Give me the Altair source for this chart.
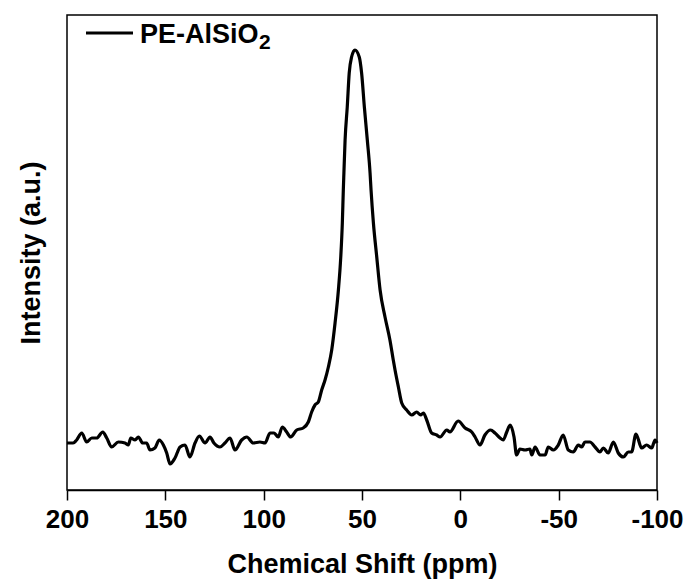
import altair as alt
import pandas as pd

ppm = [200, 196.9, 195.1, 192.5, 190.0, 187.4, 184.9, 181.8, 179.8, 177.3,
       173.9, 170.5, 168.8, 167.6, 165.4, 163.7, 161.5, 159.5, 157.8, 155.3,
       153.1, 151.0, 149.3, 147.6, 145.1, 142.5, 140.0, 137.5, 134.9, 132.7,
       129.8, 127.3, 125.3, 122.2, 119.7, 117.1, 114.6, 111.2, 108.6, 105.3,
       101.9, 99.3, 96.8, 94.7, 92.6, 90.5, 88.3, 86.3, 83.2, 79.9,
       77.3, 75.6, 73.9, 72.2, 70.5, 68.8, 67.1, 65.4, 63.7, 62.0,
       60.8, 60.0, 59.5, 59.2, 58.6, 57.5, 56.5, 55.3, 53.6, 51.4,
       50.2, 48.8, 47.3, 45.9, 45.4, 44.2, 42.5, 40.8, 38.3, 35.8,
       34.1, 33.2, 31.5, 29.8, 27.3, 24.7, 22.2, 20.2, 18.8, 17.1,
       14.6, 12.0, 10.3, 6.9, 5.3, 1.1, -2.4, -5.8, -7.5, -10.0,
       -12.5, -15.4, -17.6, -20.2, -21.8, -23.6, -25.3, -27.3, -28.6, -30.3,
       -32.9, -35.4, -36.3, -38.0, -40.5, -43.1, -44.7, -47.3, -49.8, -52.3,
       -54.9, -57.4, -60.0, -61.7, -63.4, -65.9, -68.5, -71.0, -72.7, -75.2,
       -77.8, -80.3, -82.9, -85.4, -87.1, -89.3, -92.2, -94.7, -97.3, -99.0,
       -100]

intensity = [47, 47, 50, 57, 48, 52, 52, 58, 52, 43,
             48, 47, 45, 52, 50, 53, 47, 47, 40, 42,
             50, 45, 37, 26, 32, 43, 45, 33, 47, 54,
             47, 53, 47, 43, 47, 52, 40, 50, 53, 47,
             48, 47, 57, 57, 53, 63, 58, 53, 60, 62,
             68, 78, 85, 88, 100, 110, 123, 140, 167, 200,
             233, 267, 300, 317, 350, 383, 417, 433, 440, 433,
             417, 383, 350, 317, 300, 267, 233, 200, 173, 150,
             130, 120, 103, 87, 80, 75, 78, 75, 77, 70,
             57, 55, 53, 60, 58, 69, 62, 58, 53, 45,
             55, 60, 57, 52, 50, 58, 65, 53, 35, 41,
             40, 41, 35, 43, 35, 35, 43, 40, 45, 55,
             40, 38, 45, 43, 48, 48, 43, 38, 42, 37,
             48, 37, 33, 38, 38, 56, 42, 45, 42, 50,
             47]

tick_values = [200, 150, 100, 50, 0, -50, -100]
series_name = "PE-AlSiO"
series_sub = "2"

FONT = "Liberation Sans"

df = pd.DataFrame({"ppm": ppm, "intensity": intensity})
leg = pd.DataFrame({"name": [series_name], "sub": [series_sub]})

line = alt.Chart(df).mark_line(
    color="black", strokeWidth=3.2, interpolate="monotone"
).encode(
    x=alt.X("ppm:Q",
            scale=alt.Scale(domain=[-100, 200], reverse=True, nice=False, zero=False),
            axis=alt.Axis(values=tick_values, title="Chemical Shift (ppm)",
                          grid=False, labelExpr="'' + datum.value",
                          labelFlush=False, labelOverlap=False, labelBound=False)),
    y=alt.Y("intensity:Q",
            scale=alt.Scale(domain=[0, 475], nice=False),
            axis=alt.Axis(title="Intensity (a.u.)", labels=False, ticks=False,
                          domain=False, grid=False, titlePadding=22)),
)

leg_line = alt.Chart(leg).mark_rule(color="black", strokeWidth=3).encode(
    x=alt.value(19), x2=alt.value(66), y=alt.value(18)
)
leg_text = alt.Chart(leg).mark_text(
    font=FONT, fontWeight="bold", fontSize=27, align="left", baseline="alphabetic",
    color="black"
).encode(text="name:N", x=alt.value(73), y=alt.value(28))
leg_sub = alt.Chart(leg).mark_text(
    font=FONT, fontWeight="bold", fontSize=21, align="left", baseline="alphabetic",
    color="black"
).encode(text="sub:N", x=alt.value(192), y=alt.value(34))

chart = alt.layer(line, leg_line, leg_text, leg_sub).properties(
    width=590, height=475,
    background="white",
    autosize=alt.AutoSizeParams(type="none"),
    padding={"left": 67, "top": 15, "right": 29, "bottom": 95},
).configure_view(
    stroke="black", strokeWidth=1.5
).configure_axis(
    labelFont=FONT, labelFontWeight="bold", labelFontSize=26, labelColor="black",
    titleFont=FONT, titleFontWeight="bold", titleFontSize=27, titleColor="black",
    domainColor="black", domainWidth=1.5, tickColor="black", tickWidth=1.5,
    tickSize=10, labelPadding=6, titlePadding=19
)

chart.save("out.html", embed_options={"renderer": "svg", "actions": False})
